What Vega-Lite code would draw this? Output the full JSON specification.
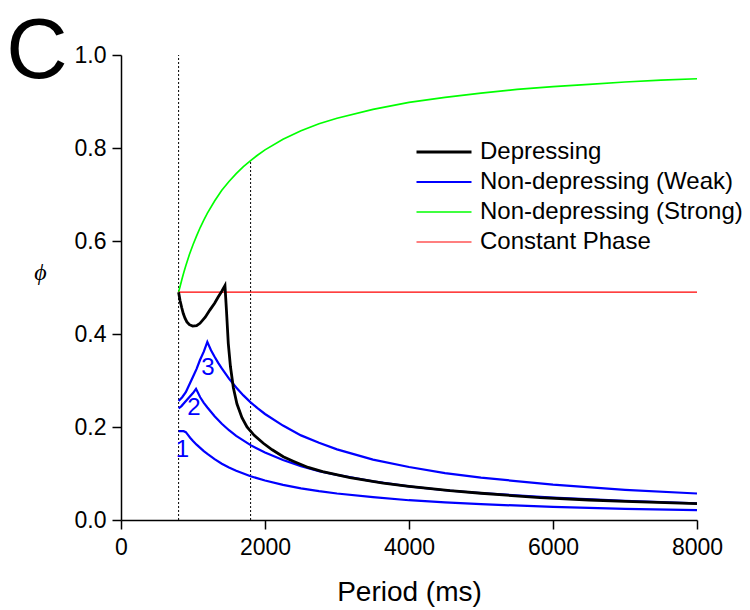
{
  "$schema": "https://vega.github.io/schema/vega-lite/v6.json",
  "width": 576,
  "height": 465,
  "autosize": {"type": "none"},
  "padding": {"left": 121, "top": 55, "right": 53, "bottom": 90},
  "background": "white",
  "config": {
    "view": {"stroke": null},
    "font": "Liberation Sans",
    "axis": {
      "grid": false,
      "domainColor": "black",
      "tickColor": "black",
      "labelColor": "black",
      "titleColor": "black",
      "domainWidth": 1.5,
      "tickWidth": 1.5,
      "tickSize": 9,
      "labelFontSize": 23,
      "labelFont": "Liberation Sans",
      "labelFlush": false,
      "labelOverlap": false,
      "titleFontWeight": "normal"
    },
    "legend": {
      "labelFont": "Liberation Sans",
      "labelFontSize": 24,
      "labelColor": "black",
      "labelLimit": 0
    }
  },
  "datasets": {
    "curves": [
      {"s": "Non-depressing (Weak)", "c": "w1", "T": 800, "p": 0.191},
      {"s": "Non-depressing (Weak)", "c": "w1", "T": 870, "p": 0.191},
      {"s": "Non-depressing (Weak)", "c": "w1", "T": 900, "p": 0.189},
      {"s": "Non-depressing (Weak)", "c": "w1", "T": 930, "p": 0.183},
      {"s": "Non-depressing (Weak)", "c": "w1", "T": 960, "p": 0.177},
      {"s": "Non-depressing (Weak)", "c": "w1", "T": 1000, "p": 0.170},
      {"s": "Non-depressing (Weak)", "c": "w1", "T": 1050, "p": 0.162},
      {"s": "Non-depressing (Weak)", "c": "w1", "T": 1100, "p": 0.155},
      {"s": "Non-depressing (Weak)", "c": "w1", "T": 1150, "p": 0.148},
      {"s": "Non-depressing (Weak)", "c": "w1", "T": 1200, "p": 0.142},
      {"s": "Non-depressing (Weak)", "c": "w1", "T": 1300, "p": 0.131},
      {"s": "Non-depressing (Weak)", "c": "w1", "T": 1400, "p": 0.121},
      {"s": "Non-depressing (Weak)", "c": "w1", "T": 1500, "p": 0.113},
      {"s": "Non-depressing (Weak)", "c": "w1", "T": 1600, "p": 0.106},
      {"s": "Non-depressing (Weak)", "c": "w1", "T": 1800, "p": 0.094},
      {"s": "Non-depressing (Weak)", "c": "w1", "T": 2000, "p": 0.085},
      {"s": "Non-depressing (Weak)", "c": "w1", "T": 2250, "p": 0.0755},
      {"s": "Non-depressing (Weak)", "c": "w1", "T": 2500, "p": 0.068},
      {"s": "Non-depressing (Weak)", "c": "w1", "T": 2750, "p": 0.062},
      {"s": "Non-depressing (Weak)", "c": "w1", "T": 3000, "p": 0.057},
      {"s": "Non-depressing (Weak)", "c": "w1", "T": 3500, "p": 0.049},
      {"s": "Non-depressing (Weak)", "c": "w1", "T": 4000, "p": 0.0425},
      {"s": "Non-depressing (Weak)", "c": "w1", "T": 4500, "p": 0.038},
      {"s": "Non-depressing (Weak)", "c": "w1", "T": 5000, "p": 0.034},
      {"s": "Non-depressing (Weak)", "c": "w1", "T": 6000, "p": 0.028},
      {"s": "Non-depressing (Weak)", "c": "w1", "T": 7000, "p": 0.024},
      {"s": "Non-depressing (Weak)", "c": "w1", "T": 8000, "p": 0.021},
      {"s": "Non-depressing (Weak)", "c": "w2", "T": 800, "p": 0.240},
      {"s": "Non-depressing (Weak)", "c": "w2", "T": 840, "p": 0.245},
      {"s": "Non-depressing (Weak)", "c": "w2", "T": 880, "p": 0.252},
      {"s": "Non-depressing (Weak)", "c": "w2", "T": 920, "p": 0.259},
      {"s": "Non-depressing (Weak)", "c": "w2", "T": 960, "p": 0.266},
      {"s": "Non-depressing (Weak)", "c": "w2", "T": 1000, "p": 0.273},
      {"s": "Non-depressing (Weak)", "c": "w2", "T": 1042, "p": 0.282},
      {"s": "Non-depressing (Weak)", "c": "w2", "T": 1100, "p": 0.264},
      {"s": "Non-depressing (Weak)", "c": "w2", "T": 1150, "p": 0.252},
      {"s": "Non-depressing (Weak)", "c": "w2", "T": 1200, "p": 0.242},
      {"s": "Non-depressing (Weak)", "c": "w2", "T": 1300, "p": 0.223},
      {"s": "Non-depressing (Weak)", "c": "w2", "T": 1400, "p": 0.207},
      {"s": "Non-depressing (Weak)", "c": "w2", "T": 1500, "p": 0.193},
      {"s": "Non-depressing (Weak)", "c": "w2", "T": 1600, "p": 0.181},
      {"s": "Non-depressing (Weak)", "c": "w2", "T": 1800, "p": 0.161},
      {"s": "Non-depressing (Weak)", "c": "w2", "T": 2000, "p": 0.145},
      {"s": "Non-depressing (Weak)", "c": "w2", "T": 2250, "p": 0.129},
      {"s": "Non-depressing (Weak)", "c": "w2", "T": 2500, "p": 0.116},
      {"s": "Non-depressing (Weak)", "c": "w2", "T": 2750, "p": 0.105},
      {"s": "Non-depressing (Weak)", "c": "w2", "T": 3000, "p": 0.097},
      {"s": "Non-depressing (Weak)", "c": "w2", "T": 3500, "p": 0.083},
      {"s": "Non-depressing (Weak)", "c": "w2", "T": 4000, "p": 0.0725},
      {"s": "Non-depressing (Weak)", "c": "w2", "T": 4500, "p": 0.064},
      {"s": "Non-depressing (Weak)", "c": "w2", "T": 5000, "p": 0.058},
      {"s": "Non-depressing (Weak)", "c": "w2", "T": 6000, "p": 0.048},
      {"s": "Non-depressing (Weak)", "c": "w2", "T": 7000, "p": 0.041},
      {"s": "Non-depressing (Weak)", "c": "w2", "T": 8000, "p": 0.036},
      {"s": "Non-depressing (Weak)", "c": "w3", "T": 800, "p": 0.256},
      {"s": "Non-depressing (Weak)", "c": "w3", "T": 850, "p": 0.264},
      {"s": "Non-depressing (Weak)", "c": "w3", "T": 900, "p": 0.275},
      {"s": "Non-depressing (Weak)", "c": "w3", "T": 958, "p": 0.294},
      {"s": "Non-depressing (Weak)", "c": "w3", "T": 1000, "p": 0.308},
      {"s": "Non-depressing (Weak)", "c": "w3", "T": 1050, "p": 0.325},
      {"s": "Non-depressing (Weak)", "c": "w3", "T": 1097, "p": 0.344},
      {"s": "Non-depressing (Weak)", "c": "w3", "T": 1150, "p": 0.362},
      {"s": "Non-depressing (Weak)", "c": "w3", "T": 1199, "p": 0.383},
      {"s": "Non-depressing (Weak)", "c": "w3", "T": 1250, "p": 0.365},
      {"s": "Non-depressing (Weak)", "c": "w3", "T": 1300, "p": 0.351},
      {"s": "Non-depressing (Weak)", "c": "w3", "T": 1350, "p": 0.338},
      {"s": "Non-depressing (Weak)", "c": "w3", "T": 1400, "p": 0.326},
      {"s": "Non-depressing (Weak)", "c": "w3", "T": 1500, "p": 0.304},
      {"s": "Non-depressing (Weak)", "c": "w3", "T": 1600, "p": 0.285},
      {"s": "Non-depressing (Weak)", "c": "w3", "T": 1700, "p": 0.268},
      {"s": "Non-depressing (Weak)", "c": "w3", "T": 1800, "p": 0.253},
      {"s": "Non-depressing (Weak)", "c": "w3", "T": 1900, "p": 0.240},
      {"s": "Non-depressing (Weak)", "c": "w3", "T": 2000, "p": 0.228},
      {"s": "Non-depressing (Weak)", "c": "w3", "T": 2250, "p": 0.203},
      {"s": "Non-depressing (Weak)", "c": "w3", "T": 2500, "p": 0.182},
      {"s": "Non-depressing (Weak)", "c": "w3", "T": 2750, "p": 0.166},
      {"s": "Non-depressing (Weak)", "c": "w3", "T": 3000, "p": 0.152},
      {"s": "Non-depressing (Weak)", "c": "w3", "T": 3500, "p": 0.130},
      {"s": "Non-depressing (Weak)", "c": "w3", "T": 4000, "p": 0.114},
      {"s": "Non-depressing (Weak)", "c": "w3", "T": 4500, "p": 0.101},
      {"s": "Non-depressing (Weak)", "c": "w3", "T": 5000, "p": 0.091},
      {"s": "Non-depressing (Weak)", "c": "w3", "T": 6000, "p": 0.076},
      {"s": "Non-depressing (Weak)", "c": "w3", "T": 7000, "p": 0.065},
      {"s": "Non-depressing (Weak)", "c": "w3", "T": 8000, "p": 0.057},
      {"s": "Non-depressing (Strong)", "c": "g", "T": 800, "p": 0.49},
      {"s": "Non-depressing (Strong)", "c": "g", "T": 825, "p": 0.505},
      {"s": "Non-depressing (Strong)", "c": "g", "T": 850, "p": 0.52},
      {"s": "Non-depressing (Strong)", "c": "g", "T": 875, "p": 0.534},
      {"s": "Non-depressing (Strong)", "c": "g", "T": 900, "p": 0.547},
      {"s": "Non-depressing (Strong)", "c": "g", "T": 950, "p": 0.571},
      {"s": "Non-depressing (Strong)", "c": "g", "T": 1000, "p": 0.592},
      {"s": "Non-depressing (Strong)", "c": "g", "T": 1050, "p": 0.611},
      {"s": "Non-depressing (Strong)", "c": "g", "T": 1100, "p": 0.629},
      {"s": "Non-depressing (Strong)", "c": "g", "T": 1150, "p": 0.645},
      {"s": "Non-depressing (Strong)", "c": "g", "T": 1200, "p": 0.66},
      {"s": "Non-depressing (Strong)", "c": "g", "T": 1300, "p": 0.686},
      {"s": "Non-depressing (Strong)", "c": "g", "T": 1400, "p": 0.709},
      {"s": "Non-depressing (Strong)", "c": "g", "T": 1500, "p": 0.728},
      {"s": "Non-depressing (Strong)", "c": "g", "T": 1600, "p": 0.745},
      {"s": "Non-depressing (Strong)", "c": "g", "T": 1700, "p": 0.760},
      {"s": "Non-depressing (Strong)", "c": "g", "T": 1800, "p": 0.773},
      {"s": "Non-depressing (Strong)", "c": "g", "T": 1900, "p": 0.785},
      {"s": "Non-depressing (Strong)", "c": "g", "T": 2000, "p": 0.796},
      {"s": "Non-depressing (Strong)", "c": "g", "T": 2250, "p": 0.819},
      {"s": "Non-depressing (Strong)", "c": "g", "T": 2500, "p": 0.837},
      {"s": "Non-depressing (Strong)", "c": "g", "T": 2750, "p": 0.852},
      {"s": "Non-depressing (Strong)", "c": "g", "T": 3000, "p": 0.864},
      {"s": "Non-depressing (Strong)", "c": "g", "T": 3500, "p": 0.883},
      {"s": "Non-depressing (Strong)", "c": "g", "T": 4000, "p": 0.898},
      {"s": "Non-depressing (Strong)", "c": "g", "T": 4500, "p": 0.909},
      {"s": "Non-depressing (Strong)", "c": "g", "T": 5000, "p": 0.918},
      {"s": "Non-depressing (Strong)", "c": "g", "T": 5500, "p": 0.926},
      {"s": "Non-depressing (Strong)", "c": "g", "T": 6000, "p": 0.932},
      {"s": "Non-depressing (Strong)", "c": "g", "T": 6500, "p": 0.937},
      {"s": "Non-depressing (Strong)", "c": "g", "T": 7000, "p": 0.942},
      {"s": "Non-depressing (Strong)", "c": "g", "T": 7500, "p": 0.946},
      {"s": "Non-depressing (Strong)", "c": "g", "T": 8000, "p": 0.949},
      {"s": "Constant Phase", "c": "r", "T": 800, "p": 0.49},
      {"s": "Constant Phase", "c": "r", "T": 8000, "p": 0.49},
      {"s": "Depressing", "c": "d", "T": 800, "p": 0.49},
      {"s": "Depressing", "c": "d", "T": 820, "p": 0.472},
      {"s": "Depressing", "c": "d", "T": 843, "p": 0.457},
      {"s": "Depressing", "c": "d", "T": 865, "p": 0.444},
      {"s": "Depressing", "c": "d", "T": 889, "p": 0.434},
      {"s": "Depressing", "c": "d", "T": 915, "p": 0.426},
      {"s": "Depressing", "c": "d", "T": 950, "p": 0.420},
      {"s": "Depressing", "c": "d", "T": 995, "p": 0.417},
      {"s": "Depressing", "c": "d", "T": 1050, "p": 0.418},
      {"s": "Depressing", "c": "d", "T": 1097, "p": 0.423},
      {"s": "Depressing", "c": "d", "T": 1170, "p": 0.436},
      {"s": "Depressing", "c": "d", "T": 1236, "p": 0.452},
      {"s": "Depressing", "c": "d", "T": 1300, "p": 0.466},
      {"s": "Depressing", "c": "d", "T": 1352, "p": 0.480},
      {"s": "Depressing", "c": "d", "T": 1400, "p": 0.492},
      {"s": "Depressing", "c": "d", "T": 1444, "p": 0.504},
      {"s": "Depressing", "c": "d", "T": 1465, "p": 0.45},
      {"s": "Depressing", "c": "d", "T": 1490, "p": 0.38},
      {"s": "Depressing", "c": "d", "T": 1520, "p": 0.33},
      {"s": "Depressing", "c": "d", "T": 1560, "p": 0.285},
      {"s": "Depressing", "c": "d", "T": 1610, "p": 0.25},
      {"s": "Depressing", "c": "d", "T": 1680, "p": 0.22},
      {"s": "Depressing", "c": "d", "T": 1750, "p": 0.20},
      {"s": "Depressing", "c": "d", "T": 1850, "p": 0.182},
      {"s": "Depressing", "c": "d", "T": 1977, "p": 0.165},
      {"s": "Depressing", "c": "d", "T": 2100, "p": 0.151},
      {"s": "Depressing", "c": "d", "T": 2254, "p": 0.136},
      {"s": "Depressing", "c": "d", "T": 2400, "p": 0.126},
      {"s": "Depressing", "c": "d", "T": 2600, "p": 0.113},
      {"s": "Depressing", "c": "d", "T": 2800, "p": 0.104},
      {"s": "Depressing", "c": "d", "T": 3181, "p": 0.091},
      {"s": "Depressing", "c": "d", "T": 3643, "p": 0.0795},
      {"s": "Depressing", "c": "d", "T": 4000, "p": 0.0725},
      {"s": "Depressing", "c": "d", "T": 4569, "p": 0.063},
      {"s": "Depressing", "c": "d", "T": 5000, "p": 0.0575},
      {"s": "Depressing", "c": "d", "T": 5819, "p": 0.048},
      {"s": "Depressing", "c": "d", "T": 6500, "p": 0.043},
      {"s": "Depressing", "c": "d", "T": 7000, "p": 0.040},
      {"s": "Depressing", "c": "d", "T": 8000, "p": 0.035}
    ],
    "dotted": [
      {"T": 800, "lo": 0, "hi": 1},
      {"T": 1800, "lo": 0, "hi": 0.773}
    ],
    "nums": [
      {"t": "1", "T": 854, "p": 0.1505},
      {"t": "2", "T": 1014, "p": 0.241},
      {"t": "3", "T": 1208, "p": 0.327}
    ],
    "panel": [
      {"t": "C", "T": -1167, "p": 0.9505}
    ]
  },
  "layer": [
    {
      "data": {"name": "dotted"},
      "mark": {"type": "rule", "color": "black", "strokeWidth": 1, "strokeDash": [2, 2]},
      "encoding": {
        "x": {
          "field": "T", "type": "quantitative",
          "scale": {"domain": [0, 8000], "nice": false, "zero": false},
          "axis": {
            "values": [0, 2000, 4000, 6000, 8000],
            "format": "d",
            "labelPadding": 7,
            "title": "Period (ms)",
            "titleFontSize": 28,
            "titlePadding": 19
          }
        },
        "y": {
          "field": "lo", "type": "quantitative",
          "scale": {"domain": [0, 1], "nice": false},
          "axis": {
            "values": [0, 0.2, 0.4, 0.6, 0.8, 1.0],
            "format": ".1f",
            "labelPadding": 6,
            "title": "ϕ",
            "titleAngle": 0,
            "titleFontStyle": "italic",
            "titleFont": "Liberation Serif",
            "titleFontSize": 24,
            "titleAlign": "center",
            "titleBaseline": "middle",
            "titleX": -81,
            "titleY": 217
          }
        },
        "y2": {"field": "hi"}
      }
    },
    {
      "data": {"name": "curves"},
      "mark": {"type": "line", "strokeCap": "butt", "strokeJoin": "miter"},
      "encoding": {
        "x": {"field": "T", "type": "quantitative"},
        "y": {"field": "p", "type": "quantitative"},
        "detail": {"field": "c"},
        "color": {
          "field": "s", "type": "nominal",
          "scale": {
            "domain": ["Depressing", "Non-depressing (Weak)", "Non-depressing (Strong)", "Constant Phase"],
            "range": ["#000000", "#0000ff", "#00ff00", "#ff0000"]
          },
          "legend": {
            "title": null,
            "orient": "none",
            "legendX": 294,
            "legendY": 82,
            "padding": 0,
            "symbolType": "stroke",
            "symbolSize": 3025,
            "clipHeight": 30,
            "rowPadding": 0,
            "labelOffset": 7,
            "labelFontSize": 24,
            "labelLimit": 0
          }
        },
        "strokeWidth": {
          "field": "s", "type": "nominal",
          "scale": {
            "domain": ["Depressing", "Non-depressing (Weak)", "Non-depressing (Strong)", "Constant Phase"],
            "range": [2.8, 1.1, 1.1, 1.3]
          },
          "legend": {
            "title": null,
            "orient": "none",
            "legendX": 294,
            "legendY": 82,
            "padding": 0,
            "symbolType": "stroke",
            "symbolSize": 3025,
            "clipHeight": 30,
            "rowPadding": 0,
            "labelOffset": 7,
            "labelFontSize": 24,
            "labelLimit": 0
          }
        }
      }
    },
    {
      "data": {"name": "nums"},
      "mark": {"type": "text", "color": "#0000ff", "fontSize": 24, "align": "center", "baseline": "middle", "font": "Liberation Sans"},
      "encoding": {
        "x": {"field": "T", "type": "quantitative"},
        "y": {"field": "p", "type": "quantitative"},
        "text": {"field": "t"}
      }
    },
    {
      "data": {"name": "panel"},
      "mark": {"type": "text", "color": "black", "fontSize": 85, "align": "center", "baseline": "alphabetic", "font": "Liberation Sans"},
      "encoding": {
        "x": {"field": "T", "type": "quantitative"},
        "y": {"field": "p", "type": "quantitative"},
        "text": {"field": "t"}
      }
    }
  ]
}
